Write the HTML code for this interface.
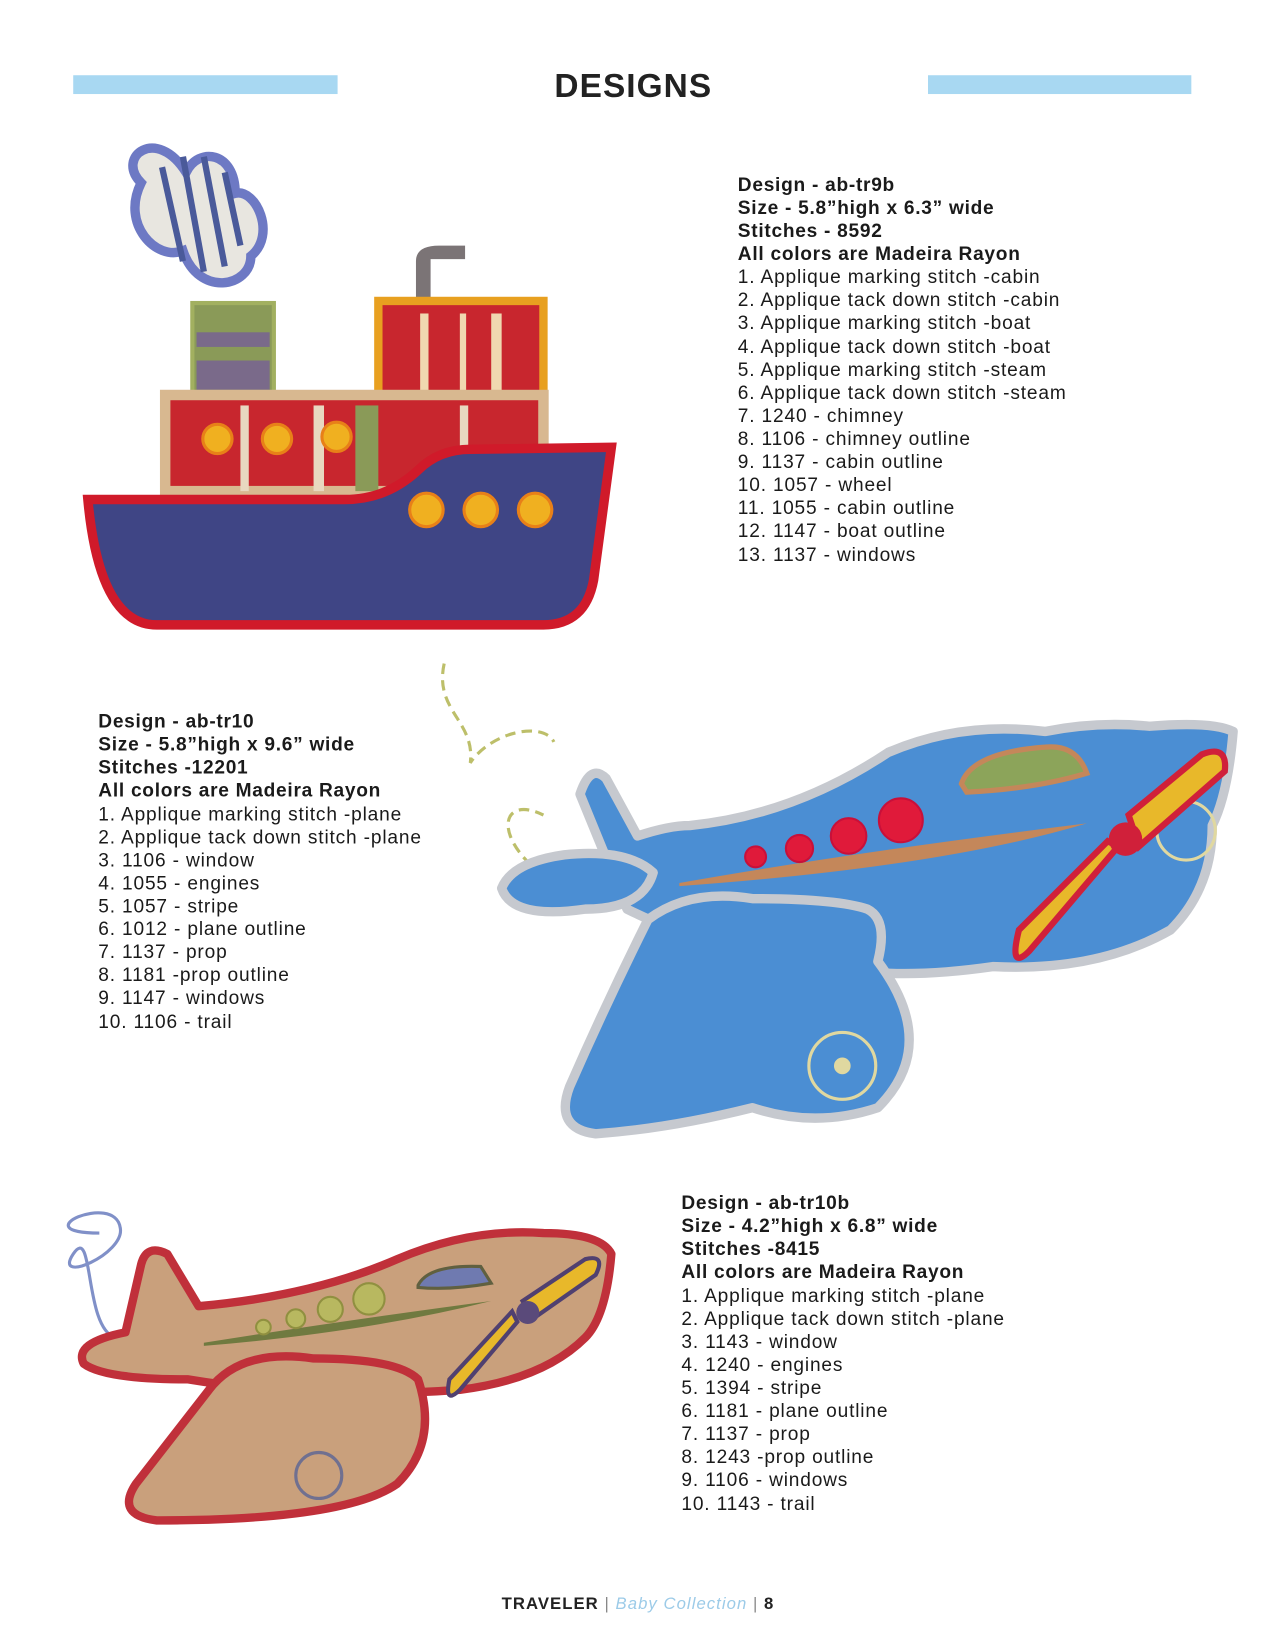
<!DOCTYPE html>
<html><head><meta charset="utf-8"><style>
html,body{margin:0;padding:0;background:#fff;}
svg{display:block}
text{font-family:"Liberation Sans",Arial,sans-serif;font-size:18.3px;letter-spacing:0.8px;fill:#1a1a1a}
.b{font-weight:bold;letter-spacing:0.7px}
</style></head><body>
<svg width="1275" height="1650" viewBox="0 0 1220 1579" xmlns="http://www.w3.org/2000/svg">
<rect x="70" y="72" width="253" height="18" fill="#a8d8f2"/>
<rect x="888" y="72" width="252" height="18" fill="#a8d8f2"/>
<text x="606" y="93" text-anchor="middle" style="font-size:32px;font-weight:bold;letter-spacing:1px;fill:#222">DESIGNS</text>

<!-- BOAT -->
<g>
<path d="M178 165 C150 120 110 150 135 175 C115 215 150 250 175 240 C190 285 240 275 240 245 C265 225 245 180 225 185 C225 145 190 140 178 165Z" fill="#e8e6e0" stroke="#6d79c4" stroke-width="9"/>
<g stroke="#4a5a9a" stroke-width="6"><line x1="155" y1="160" x2="175" y2="250"/><line x1="175" y1="150" x2="195" y2="260"/><line x1="195" y1="150" x2="215" y2="255"/><line x1="215" y1="165" x2="230" y2="235"/></g>
<path d="M398 290 L398 250 Q398 235 420 235 L445 235 L445 248 L412 248 L412 290Z" fill="#7b7476"/>
<rect x="184" y="290" width="78" height="90" fill="#8a9a58" stroke="#a2b060" stroke-width="4"/>
<rect x="188" y="318" width="70" height="14" fill="#7a6a8a"/><rect x="188" y="345" width="70" height="28" fill="#7a6a8a"/>
<rect x="362" y="288" width="158" height="92" fill="#c8262e" stroke="#e8a020" stroke-width="8"/>
<g fill="#f0d8b0"><rect x="402" y="300" width="8" height="80"/><rect x="440" y="300" width="6" height="80"/><rect x="470" y="300" width="10" height="80"/></g>
<rect x="158" y="378" width="362" height="92" fill="#c8262e" stroke="#d8b890" stroke-width="10"/>
<g fill="#e8d8c0"><rect x="230" y="388" width="8" height="82"/><rect x="300" y="388" width="10" height="82"/><rect x="340" y="388" width="22" height="82" fill="#8a9a58"/><rect x="440" y="388" width="8" height="82"/></g>
<g fill="#f0b020" stroke="#e88018" stroke-width="3"><circle cx="208" cy="420" r="14"/><circle cx="265" cy="420" r="14"/><circle cx="322" cy="418" r="14"/></g>
<path d="M84 478 L330 478 Q370 478 400 450 Q420 430 450 430 L585 428 L568 555 Q560 598 520 598 L150 598 Q95 598 84 478Z" fill="#3f4585" stroke="#d01a2a" stroke-width="9"/>
<g fill="#f0b020" stroke="#e88018" stroke-width="3"><circle cx="408" cy="488" r="16"/><circle cx="460" cy="488" r="16"/><circle cx="512" cy="488" r="16"/></g>
</g>

<!-- PLANE 1 -->
<path d="M425 635 C415 680 455 690 450 730 C470 700 520 690 530 710" fill="none" stroke="#bdbf6a" stroke-width="3" stroke-dasharray="10 6"/>
<path d="M520 838 C470 800 480 760 520 780" fill="none" stroke="#bdbf6a" stroke-width="3" stroke-dasharray="10 6"/>
<g stroke="#c6c9cf" stroke-width="9" fill="#4b8ed3" stroke-linejoin="round">
<path d="M555 760 Q565 730 580 745 L610 800 Q640 790 660 790 Q760 780 850 720 Q920 690 1000 700 Q1050 690 1100 695 Q1160 690 1180 700 Q1175 760 1160 790 Q1160 850 1120 890 Q1050 930 950 925 Q880 935 830 930 Q760 920 700 910 Q640 890 600 870 Z"/>
<path d="M480 850 Q490 825 540 818 Q600 812 625 835 Q615 870 560 870 Q490 880 480 850Z"/>
<path d="M620 880 Q660 850 720 860 Q800 860 830 870 Q850 880 840 920 Q900 1000 840 1060 Q780 1080 720 1060 Q640 1080 570 1085 Q530 1080 545 1040 Q580 960 620 880Z"/>
</g>
<path d="M920 750 Q930 720 1000 715 Q1030 712 1040 740 Q990 755 925 758Z" fill="#8ca45a" stroke="#c4875a" stroke-width="5"/>
<path d="M650 845 Q820 815 1040 788 Q900 830 650 848Z" fill="#c4875a"/>
<g fill="#e01a3a" stroke="#c8103a" stroke-width="2"><circle cx="723" cy="820" r="10"/><circle cx="765" cy="812" r="13"/><circle cx="812" cy="800" r="17"/><circle cx="862" cy="785" r="21"/></g>
<circle cx="1135" cy="795" r="28" fill="none" stroke="#e0d8a0" stroke-width="3"/>
<path d="M1080 780 L1150 722 Q1175 712 1172 738 L1090 810Z" fill="#e8b82a" stroke="#d0203a" stroke-width="6"/>
<path d="M1070 810 L985 910 Q965 930 975 890 L1060 805Z" fill="#e8b82a" stroke="#d0203a" stroke-width="6"/>
<circle cx="1077" cy="803" r="16" fill="#d0203a"/>
<circle cx="806" cy="1020" r="32" fill="none" stroke="#e0d8a0" stroke-width="3"/><circle cx="806" cy="1020" r="8" fill="#e0d8a0"/>

<!-- PLANE 2 -->
<path d="M95 1180 C20 1180 110 1140 115 1175 C120 1200 50 1230 70 1200 C90 1170 80 1270 110 1280" fill="none" stroke="#8090c8" stroke-width="3"/>
<g stroke="#c0303a" stroke-width="8" fill="#c9a07c" stroke-linejoin="round">
<path d="M135 1210 Q140 1190 160 1200 L190 1250 Q300 1240 380 1205 Q450 1175 520 1180 Q575 1180 585 1200 Q580 1260 560 1280 Q520 1320 440 1330 Q300 1340 180 1320 Q100 1320 80 1305 Q70 1285 120 1275 Z"/>
<path d="M200 1330 Q230 1290 300 1300 Q380 1300 400 1320 Q420 1380 380 1420 Q330 1455 150 1455 Q110 1450 130 1420 Z"/>
</g>
<path d="M400 1230 Q410 1210 460 1212 L470 1228 Q430 1235 400 1232Z" fill="#6f7ab0" stroke="#606040" stroke-width="3"/>
<path d="M195 1285 Q320 1265 470 1245 Q350 1275 195 1288Z" fill="#707a40"/>
<g fill="#b8b860" stroke="#909040" stroke-width="2"><circle cx="252" cy="1270" r="7"/><circle cx="283" cy="1262" r="9"/><circle cx="316" cy="1253" r="12"/><circle cx="353" cy="1243" r="15"/></g>
<path d="M500 1245 L560 1205 Q580 1200 570 1220 L510 1262Z" fill="#e8b82a" stroke="#504070" stroke-width="4"/>
<path d="M495 1265 L440 1330 Q425 1345 430 1320 L490 1255Z" fill="#e8b82a" stroke="#504070" stroke-width="4"/>
<circle cx="505" cy="1256" r="11" fill="#5a4a7a"/>
<circle cx="305" cy="1412" r="22" fill="none" stroke="#707090" stroke-width="3"/>

<!-- TEXT 1 -->
<g>
<text x="706" y="183" class="b">Design - ab-tr9b</text>
<text x="706" y="205" class="b">Size - 5.8”high x 6.3” wide</text>
<text x="706" y="227" class="b">Stitches - 8592</text>
<text x="706" y="249" class="b">All colors are Madeira Rayon</text>
<text x="706" y="271">1. Applique marking stitch -cabin</text>
<text x="706" y="293">2. Applique tack down stitch -cabin</text>
<text x="706" y="315">3. Applique marking stitch -boat</text>
<text x="706" y="338">4. Applique tack down stitch -boat</text>
<text x="706" y="360">5. Applique marking stitch -steam</text>
<text x="706" y="382">6. Applique tack down stitch -steam</text>
<text x="706" y="404">7. 1240 - chimney</text>
<text x="706" y="426">8. 1106 - chimney outline</text>
<text x="706" y="448">9. 1137 - cabin outline</text>
<text x="706" y="470">10. 1057 - wheel</text>
<text x="706" y="492">11. 1055 - cabin outline</text>
<text x="706" y="514">12. 1147 - boat outline</text>
<text x="706" y="537">13. 1137 - windows</text>
</g>
<g>
<text x="94" y="696" class="b">Design - ab-tr10</text>
<text x="94" y="718" class="b">Size - 5.8”high x 9.6” wide</text>
<text x="94" y="740" class="b">Stitches -12201</text>
<text x="94" y="762" class="b">All colors are Madeira Rayon</text>
<text x="94" y="785">1. Applique marking stitch -plane</text>
<text x="94" y="807">2. Applique tack down stitch -plane</text>
<text x="94" y="829">3. 1106 - window</text>
<text x="94" y="851">4. 1055 - engines</text>
<text x="94" y="873">5. 1057 - stripe</text>
<text x="94" y="895">6. 1012 - plane outline</text>
<text x="94" y="917">7. 1137 - prop</text>
<text x="94" y="939">8. 1181 -prop outline</text>
<text x="94" y="961">9. 1147 - windows</text>
<text x="94" y="984">10. 1106 - trail</text>
</g>
<g>
<text x="652" y="1157" class="b">Design - ab-tr10b</text>
<text x="652" y="1179" class="b">Size - 4.2”high x 6.8” wide</text>
<text x="652" y="1201" class="b">Stitches -8415</text>
<text x="652" y="1223" class="b">All colors are Madeira Rayon</text>
<text x="652" y="1246">1. Applique marking stitch -plane</text>
<text x="652" y="1268">2. Applique tack down stitch -plane</text>
<text x="652" y="1290">3. 1143 - window</text>
<text x="652" y="1312">4. 1240 - engines</text>
<text x="652" y="1334">5. 1394 - stripe</text>
<text x="652" y="1356">6. 1181 - plane outline</text>
<text x="652" y="1378">7. 1137 - prop</text>
<text x="652" y="1400">8. 1243 -prop outline</text>
<text x="652" y="1422">9. 1106 - windows</text>
<text x="652" y="1445">10. 1143 - trail</text>
</g>
<text x="480" y="1540" style="font-size:16px;letter-spacing:1px;font-weight:bold;fill:#222">TRAVELER <tspan style="font-weight:normal;fill:#888">|</tspan> <tspan style="font-weight:normal;font-style:italic;fill:#9ccbe8">Baby Collection</tspan> <tspan style="font-weight:normal;fill:#888">|</tspan> 8</text>
</svg>
</body></html>
